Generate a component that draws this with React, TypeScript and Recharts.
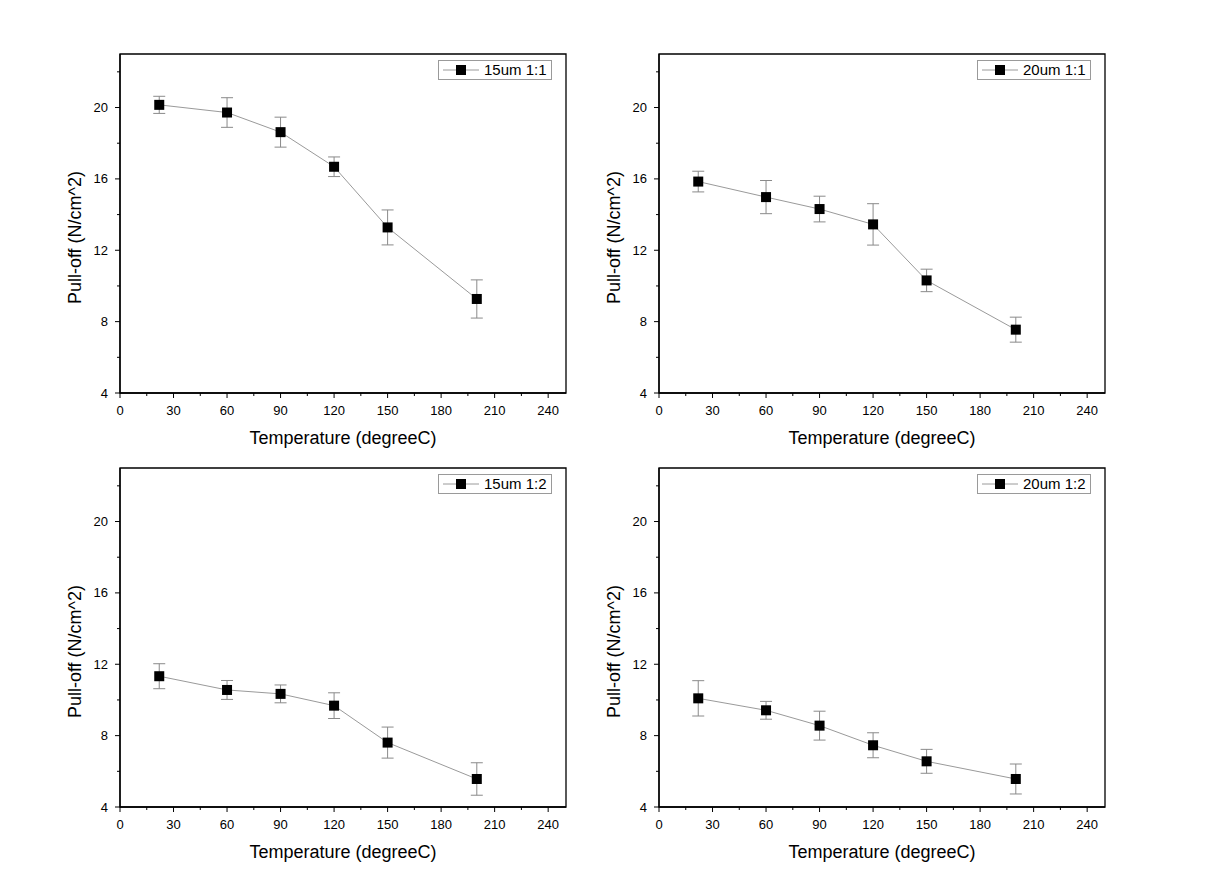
import React from "react";
import {
  ComposedChart,
  Line,
  XAxis,
  YAxis,
  ErrorBar,
  Legend,
  ReferenceArea,
} from "recharts";

const temps = [22, 60, 90, 120, 150, 200];

const pull15_11 = [20.15, 19.72, 18.62, 16.68, 13.28, 9.27];
const err15_11 = [0.48, 0.83, 0.84, 0.55, 0.98, 1.07];

const pull20_11 = [15.85, 14.98, 14.31, 13.45, 10.31, 7.55];
const err20_11 = [0.58, 0.93, 0.72, 1.16, 0.63, 0.7];

const pull15_12 = [11.33, 10.56, 10.34, 9.68, 7.61, 5.57];
const err15_12 = [0.7, 0.53, 0.5, 0.72, 0.87, 0.91];

const pull20_12 = [10.09, 9.42, 8.56, 7.46, 6.56, 5.57];
const err20_12 = [0.99, 0.5, 0.81, 0.7, 0.67, 0.84];

const xTicks = [0, 15, 30, 45, 60, 75, 90, 105, 120, 135, 150, 165, 180, 195, 210, 225, 240];
const xMajor = [0, 30, 60, 90, 120, 150, 180, 210, 240];
const yTicks = [4, 6, 8, 10, 12, 14, 16, 18, 20, 22];
const yMajor = [4, 8, 12, 16, 20];

const FONT = '"Liberation Sans", Arial, sans-serif';

function XTick({ x, y, payload }: any) {
  const major = xMajor.includes(payload.value);
  return (
    <g>
      <line x1={x} x2={x} y1={y} y2={y + (major ? 5 : 3)} stroke="#000" strokeWidth={1} />
      {major && (
        <text x={x} y={y + 22} textAnchor="middle" fontSize={13} fontFamily={FONT} fill="#000">
          {payload.value}
        </text>
      )}
    </g>
  );
}

function YTick({ x, y, payload }: any) {
  const major = yMajor.includes(payload.value);
  return (
    <g>
      <line x1={x - (major ? 5 : 3)} x2={x} y1={y} y2={y} stroke="#000" strokeWidth={1} />
      {major && (
        <text x={x - 12} y={y + 4.5} textAnchor="end" fontSize={13} fontFamily={FONT} fill="#000">
          {payload.value}
        </text>
      )}
    </g>
  );
}

function SquareDot(props: any) {
  const { cx, cy, index } = props;
  return <rect key={index} x={cx - 5} y={cy - 5} width={10} height={10} fill="#000" />;
}

function LegendBox({ name }: { name: string }) {
  return (
    <div
      style={{
        boxSizing: "border-box",
        width: 114,
        height: 20,
        border: "1px solid #9a9a9a",
        background: "#fff",
        display: "flex",
        alignItems: "center",
        paddingLeft: 4,
        fontFamily: FONT,
        fontSize: 15,
        color: "#000",
      }}
    >
      <svg width={36} height={12}>
        <line x1={0} x2={36} y1={6} y2={6} stroke="#9a9a9a" strokeWidth={1} />
        <rect x={13} y={1} width={10} height={10} fill="#000" />
      </svg>
      <span style={{ marginLeft: 5, lineHeight: "18px" }}>{name}</span>
    </div>
  );
}

function Panel({
  left,
  top,
  name,
  values,
  errors,
}: {
  left: number;
  top: number;
  name: string;
  values: number[];
  errors: number[];
}) {
  const data = temps.map((t, i) => ({ t, v: values[i], err: errors[i] }));
  return (
    <div style={{ position: "absolute", left, top, width: 600, height: 460 }}>
      <ComposedChart
        width={600}
        height={460}
        data={data}
        margin={{ top: 54, right: 34, bottom: 37, left: 70 }}
      >
        <XAxis
          xAxisId="b"
          dataKey="t"
          type="number"
          domain={[0, 250]}
          ticks={xTicks}
          interval={0}
          tick={<XTick />}
          tickLine={false}
          tickSize={0}
          tickMargin={0}
          height={30}
          axisLine={{ stroke: "#000", strokeWidth: 1.3 }}
          label={{
            content: (p: any) => (
              <text
                x={p.viewBox.x + p.viewBox.width / 2}
                y={p.viewBox.y + 51}
                textAnchor="middle"
                fontSize={18}
                fontFamily={FONT}
                fill="#000"
              >
                Temperature (degreeC)
              </text>
            ),
          }}
        />
        <YAxis
          yAxisId="l"
          type="number"
          domain={[4, 23]}
          ticks={yTicks}
          interval={0}
          tick={<YTick />}
          tickLine={false}
          tickSize={0}
          tickMargin={0}
          width={50}
          axisLine={{ stroke: "#000", strokeWidth: 1.3 }}
          label={{
            content: (p: any) => {
              const cx = 75;
              const cy = p.viewBox.y + p.viewBox.height / 2 + 14;
              return (
                <text
                  x={cx}
                  y={cy}
                  transform={`rotate(-90, ${cx}, ${cy})`}
                  textAnchor="middle"
                  dominantBaseline="central"
                  fontSize={18}
                  fontFamily={FONT}
                  fill="#000"
                >
                  Pull-off (N/cm^2)
                </text>
              );
            },
          }}
        />
        {/* full box frame around the plot */}
        <ReferenceArea
          xAxisId="b"
          yAxisId="l"
          x1={0}
          x2={250}
          y1={4}
          y2={23}
          fill="none"
          fillOpacity={0}
          stroke="#000"
          strokeWidth={1.3}
          strokeOpacity={1}
        />
        <Legend
          layout="horizontal"
          verticalAlign="middle"
          align="center"
          wrapperStyle={{ top: 60, left: 438, width: "auto", height: "auto" }}
          content={() => <LegendBox name={name} />}
        />
        <Line
          xAxisId="b"
          yAxisId="l"
          type="linear"
          dataKey="v"
          name={name}
          stroke="#9a9a9a"
          strokeWidth={1}
          dot={SquareDot}
          activeDot={false}
          isAnimationActive={false}
        >
          <ErrorBar dataKey="err" direction="y" width={6} stroke="#8a8a8a" strokeWidth={1} isAnimationActive={false} />
        </Line>
      </ComposedChart>
    </div>
  );
}

export default function App() {
  return (
    <div
      style={{
        position: "absolute",
        left: 0,
        top: 0,
        width: 1216,
        height: 886,
        background: "#fff",
      }}
    >
      <Panel left={0} top={0} name="15um 1:1" values={pull15_11} errors={err15_11} />
      <Panel left={539} top={0} name="20um 1:1" values={pull20_11} errors={err20_11} />
      <Panel left={0} top={414} name="15um 1:2" values={pull15_12} errors={err15_12} />
      <Panel left={539} top={414} name="20um 1:2" values={pull20_12} errors={err20_12} />
    </div>
  );
}
